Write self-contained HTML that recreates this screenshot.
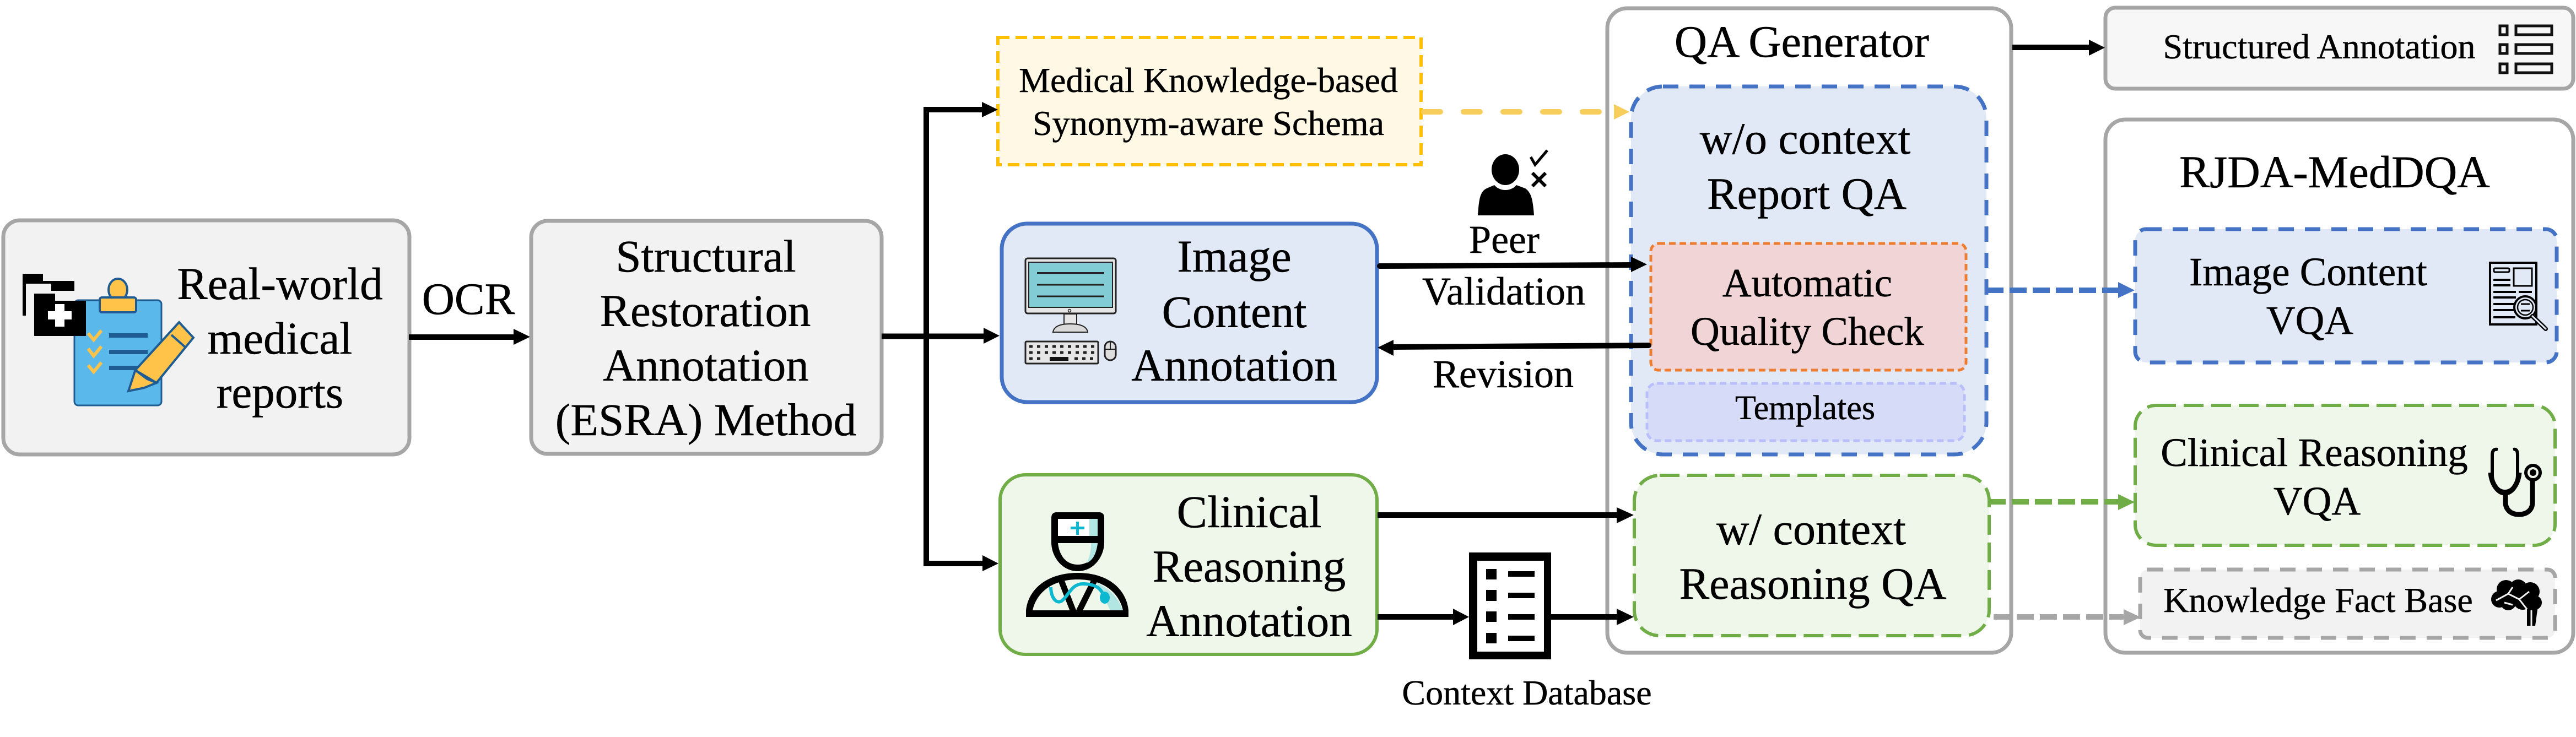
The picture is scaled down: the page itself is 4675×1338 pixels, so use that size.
<!DOCTYPE html>
<html><head><meta charset="utf-8"><style>
html,body{margin:0;padding:0;background:#fff}
svg{display:block}
text{font-family:"Liberation Serif","Times New Roman",serif;fill:#000;text-anchor:middle;stroke:#000;stroke-width:.5px}
</style></head><body>
<svg width="4675" height="1338" viewBox="0 0 4675 1338" xmlns="http://www.w3.org/2000/svg">
<rect width="4675" height="1338" fill="#fff"/>

<!-- main boxes -->
<rect x="6" y="400" width="737" height="425" rx="30" fill="#f2f2f2" stroke="#a6a6a6" stroke-width="7"/>
<rect x="964" y="401" width="636" height="423" rx="30" fill="#f2f2f2" stroke="#a6a6a6" stroke-width="7"/>
<rect x="1811" y="68" width="768" height="231" fill="#fff8e5" stroke="#ffc000" stroke-width="6" stroke-dasharray="21 11"/>
<rect x="1818" y="406" width="681" height="324" rx="46" fill="#e2e9f6" stroke="#4472c4" stroke-width="7"/>
<rect x="1815" y="862" width="684" height="326" rx="46" fill="#eff6ea" stroke="#70ad47" stroke-width="6"/>

<rect x="2917" y="15" width="733" height="1170" rx="36" fill="#fff" stroke="#a6a6a6" stroke-width="7"/>
<rect x="2960" y="157" width="645" height="668" rx="58" fill="#e2e9f6" stroke="#4472c4" stroke-width="7" stroke-dasharray="28 20"/>
<rect x="2996" y="442" width="572" height="230" rx="14" fill="#f1d4d6" stroke="#ed7d31" stroke-width="5" stroke-dasharray="12 7"/>
<rect x="2989" y="696" width="576" height="104" rx="18" fill="#d6dcf8" stroke="#b9bffb" stroke-width="5" stroke-dasharray="12 7"/>
<rect x="2966" y="863" width="644" height="291" rx="46" fill="#eff6ea" stroke="#70ad47" stroke-width="6" stroke-dasharray="36 14"/>

<rect x="3821" y="14" width="849" height="147" rx="18" fill="#f7f7f7" stroke="#a6a6a6" stroke-width="7"/>
<rect x="3821" y="217" width="849" height="968" rx="36" fill="#fff" stroke="#a6a6a6" stroke-width="7"/>
<rect x="3875" y="416" width="765" height="242" rx="20" fill="#e2e9f6" stroke="#4472c4" stroke-width="7" stroke-dasharray="28 20"/>
<rect x="3875" y="736" width="762" height="254" rx="38" fill="#eff6ea" stroke="#70ad47" stroke-width="6" stroke-dasharray="36 14"/>
<rect x="3884" y="1034" width="753" height="124" rx="14" fill="#f2f2f2" stroke="#a6a6a6" stroke-width="7" stroke-dasharray="28 20"/>

<!-- black arrows -->
<g stroke="#000" stroke-width="10" fill="none">
<path d="M742 612H935"/>
<path d="M1600 610.500H1790"/>
<path d="M1786 199H1681V1023H1790" stroke-width="10"/>
<path d="M2504 483L2965 481" stroke-linecap="round"/>
<path d="M2992 627L2525 630" stroke-linecap="round"/>
<path d="M2500 935H2938"/>
<path d="M2500 1120H2640"/>
<path d="M2815 1120H2938"/>
<path d="M3652 86H3795"/>
</g>
<g fill="#000">
<polygon points="932,597 962,611.500 932,626"/>
<polygon points="1785,595 1814,609.500 1785,624"/>
<polygon points="1782,185 1811,199 1782,213"/>
<polygon points="1783,1008 1812,1023 1783,1037"/>
<polygon points="2960,466 2989,480 2960,494"/>
<polygon points="2529,617 2500,631 2529,646"/>
<polygon points="2934,921 2965,935 2934,950"/>
<polygon points="2637,1105 2666,1120 2637,1135"/>
<polygon points="2934,1105 2965,1120 2934,1135"/>
<polygon points="3791,72 3820,86.500 3791,101"/>
</g>

<!-- coloured dashed arrows -->
<path d="M2584 203H2925" stroke="#f7ce5b" stroke-width="10" stroke-linecap="round" stroke-dasharray="30 42" fill="none"/>
<polygon points="2929,189 2957,203 2929,217" fill="#f7ce5b"/>
<path d="M3605 527H3846" stroke="#4472c4" stroke-width="10" stroke-dasharray="31 11" fill="none"/>
<polygon points="3844,512 3874,527 3844,541" fill="#4472c4"/>
<path d="M3609 911H3846" stroke="#70ad47" stroke-width="10" stroke-dasharray="31 11" fill="none"/>
<polygon points="3844,897 3874,911.500 3844,926" fill="#70ad47"/>
<path d="M3618 1120H3856" stroke="#a6a6a6" stroke-width="10" stroke-dasharray="31 11" fill="none"/>
<polygon points="3854,1106 3885,1120.500 3854,1135" fill="#a6a6a6"/>

<!-- text -->
<g font-size="83">
<text x="508" y="543">Real-world</text>
<text x="508" y="642">medical</text>
<text x="508" y="740">reports</text>
<text x="850" y="570" font-size="82">OCR</text>
<text x="1281" y="493">Structural</text>
<text x="1280" y="592">Restoration</text>
<text x="1281" y="691">Annotation</text>
<text x="1281" y="790">(ESRA) Method</text>
<text x="2240" y="493">Image</text>
<text x="2240" y="594">Content</text>
<text x="2240" y="691">Annotation</text>
<text x="2267" y="957">Clinical</text>
<text x="2267" y="1056">Reasoning</text>
<text x="2267" y="1155">Annotation</text>
</g>
<g font-size="64">
<text x="2193" y="167">Medical Knowledge-based</text>
<text x="2193" y="245">Synonym-aware Schema</text>
<text x="4209" y="106">Structured Annotation</text>
<text x="4207" y="1111">Knowledge Fact Base</text>
</g>
<g font-size="72">
<text x="2730" y="459">Peer</text>
<text x="2729" y="553">Validation</text>
<text x="2728" y="703">Revision</text>
</g>
<text x="2771" y="1279" font-size="64">Context Database</text>
<text x="3270" y="103" font-size="82">QA Generator</text>
<g font-size="82">
<text x="3276" y="279" font-size="81.500">w/o context</text>
<text x="3279" y="379">Report QA</text>
<text x="3287" y="988">w/ context</text>
<text x="3290" y="1087">Reasoning QA</text>
<text x="4237" y="340" font-size="82.500">RJDA-MedDQA</text>
</g>
<g font-size="73">
<text x="3280" y="538">Automatic</text>
<text x="3280" y="626">Quality Check</text>
<text x="4189" y="518">Image Content</text>
<text x="4192" y="606">VQA</text>
<text x="4200" y="846">Clinical Reasoning</text>
<text x="4205" y="934">VQA</text>
</g>
<text x="3276" y="761" font-size="62">Templates</text>

<!-- clipboard icon -->
<rect x="135" y="545" width="158" height="191" rx="7" fill="#5bb8ea" stroke="#1f5c94" stroke-width="3"/>
<path d="M41 573V497H78V510H135V528H93V515H47V573Z" fill="#000"/>
<path d="M62 533H100V546H156V610H62Z" fill="#000"/>
<path d="M100 552h17v13h13v15h-13v13h-17v-13h-13v-15h13z" fill="#fff"/>
<ellipse cx="214" cy="526" rx="17" ry="20" fill="#ffc34a" stroke="#1f5c94" stroke-width="4"/>
<rect x="181" y="540" width="66" height="27" rx="4" fill="#ffc34a" stroke="#1f5c94" stroke-width="4"/>
<g stroke="#1f5c94" stroke-width="8" fill="none">
<path d="M198 609H268M198 639H268M198 668H255"/>
</g>
<g stroke="#ffc34a" stroke-width="6" fill="none">
<path d="M160 605L170 617L184 600M160 633L170 646L184 629M160 663L170 675L184 658"/>
</g>
<polygon points="325,585 351,613 284,695 245.500,672" fill="#ffc34a" stroke="#1f5c94" stroke-width="4"/>
<path d="M311 608L337 631" stroke="#1f5c94" stroke-width="4"/>
<polygon points="245.500,672 267,688 284,695 262,704 233,710" fill="#ffc34a" stroke="#1f5c94" stroke-width="4"/>

<!-- computer icon -->
<rect x="1861" y="469" width="164" height="100" rx="4" fill="#e6e6e6" stroke="#222" stroke-width="3"/>
<rect x="1867" y="476" width="152" height="82" fill="#82ccd6" stroke="#222" stroke-width="2"/>
<path d="M1882 495.500H2004M1882 517H2004M1882 538H2004" stroke="#222" stroke-width="3"/>
<circle cx="1941" cy="564" r="2.500" fill="none" stroke="#222" stroke-width="1.500"/>
<rect x="1931" y="570" width="23" height="20" fill="#e6e6e6" stroke="#222" stroke-width="2"/>
<path d="M1911 603C1913 590 1930 588 1942 588S1972 590 1974 603Z" fill="#d9d9d9" stroke="#222" stroke-width="2"/>
<rect x="1861" y="620" width="132" height="40" rx="2" fill="#e6e6e6" stroke="#222" stroke-width="3"/>
<g stroke="#222" stroke-width="5" stroke-dasharray="6 8" fill="none">
<path d="M1868 629H1988M1868 640H1988"/>
<path d="M1868 651H1892"/>
<path d="M1950 651H1988"/>
</g>
<rect x="1905" y="648" width="34" height="7" fill="#111"/>
<rect x="2005" y="620" width="20" height="34" rx="10" fill="#ddd" stroke="#222" stroke-width="3"/>
<path d="M2015 620V634M2005 634H2025" stroke="#222" stroke-width="2"/>

<!-- person icon -->
<ellipse cx="2732" cy="308" rx="25" ry="28" fill="#000"/>
<path d="M2682 391C2684 365 2685 348 2698 342L2712 336C2722 348 2742 348 2752 336L2768 342C2780 350 2782 365 2784 391Z" fill="#000"/>
<path d="M2778 285L2786 299L2808 273" fill="none" stroke="#000" stroke-width="5"/>
<path d="M2781 314L2805 338M2805 314L2781 338" fill="none" stroke="#000" stroke-width="6"/>

<!-- doctor icon -->
<path d="M1908 940Q1908 930 1918 930H1994Q2004 930 2004 940V985C2004 1010 1985 1037 1956 1037C1927 1037 1908 1010 1908 985Z" fill="#000"/>
<rect x="1920" y="942" width="72" height="31" fill="#fff"/>
<rect x="1977" y="942" width="15" height="31" fill="#b2e6e2"/>
<path d="M1920 986H1992C1990 1005 1980 1025 1956 1025C1932 1025 1922 1005 1920 986Z" fill="#eff6ea"/>
<path d="M1992 986C1990 1005 1983 1018 1972 1022C1978 1010 1980 1000 1980 986Z" fill="#b2e6e2"/>
<path d="M1955.500 947V971M1943 958.500H1968" stroke="#0bb8d0" stroke-width="5"/>
<path d="M1862 1108C1866 1070 1900 1040 1956 1040C2012 1040 2044 1070 2048 1108V1120H1862Z" fill="#000"/>
<path d="M1874 1108C1880 1080 1905 1052 1956 1052C2007 1052 2032 1080 2038 1108Z" fill="#eff6ea"/>
<path d="M1990 1058C2018 1070 2032 1090 2037 1108H2015Z" fill="#b2e6e2"/>
<path d="M1926 1054L1948 1110M1986 1054L1958 1110" stroke="#000" stroke-width="11"/>
<path d="M1907 1066C1908 1090 1920 1097 1928 1090C1940 1080 1945 1060 1965 1060C1990 1060 2000 1070 2004 1085" fill="none" stroke="#0bb8d0" stroke-width="6"/>
<ellipse cx="2005" cy="1085" rx="9" ry="11" fill="#0bb8d0"/>

<!-- context DB -->
<rect x="2666" y="1003" width="149" height="194" fill="#000"/>
<rect x="2681" y="1018" width="121" height="165" fill="#fff"/>
<g fill="#000">
<rect x="2697" y="1033" width="19" height="19"/><rect x="2737" y="1037" width="48" height="10"/>
<rect x="2697" y="1071" width="19" height="20"/><rect x="2737" y="1076" width="48" height="10"/>
<rect x="2697" y="1110" width="19" height="19"/><rect x="2737" y="1115" width="48" height="10"/>
<rect x="2697" y="1149" width="19" height="19"/><rect x="2737" y="1154" width="48" height="10"/>
</g>

<!-- list icon -->
<g fill="none" stroke="#111" stroke-width="5">
<rect x="4537" y="47" width="13" height="16"/><rect x="4566" y="47" width="65" height="16"/>
<rect x="4537" y="81" width="13" height="16"/><rect x="4566" y="81" width="65" height="16"/>
<rect x="4537" y="116" width="13" height="16"/><rect x="4566" y="116" width="65" height="16"/>
</g>

<!-- document magnifier -->
<rect x="4519" y="477" width="84" height="112" fill="none" stroke="#000" stroke-width="4"/>
<rect x="4526" y="487" width="28" height="7" rx="2" fill="none" stroke="#000" stroke-width="3"/>
<rect x="4562" y="487" width="33" height="32" fill="none" stroke="#000" stroke-width="3"/>
<path d="M4525 508H4556M4525 518H4556M4525 530H4566M4571 530H4595M4525 540H4566M4525 552H4562M4525 563H4562M4525 576H4565" stroke="#000" stroke-width="4"/>
<circle cx="4583" cy="558" r="20" fill="#e2e9f6" stroke="#000" stroke-width="4"/>
<circle cx="4583" cy="558" r="14" fill="none" stroke="#000" stroke-width="2.500"/>
<path d="M4575 552H4591M4575 564H4591" stroke="#000" stroke-width="3"/>
<path d="M4596 574L4620 597" stroke="#000" stroke-width="8" stroke-linecap="round"/>
<path d="M4596 574L4620 597" stroke="#e2e9f6" stroke-width="3" stroke-linecap="round"/>

<!-- stethoscope -->
<path d="M4533 816Q4523 814 4523 826V862C4523 880 4534 892 4546 892C4558 892 4569 880 4569 862V826Q4569 814 4561 816" fill="none" stroke="#000" stroke-width="6"/>
<path d="M4520 858C4522 880 4534 895 4546 895C4558 895 4570 880 4572 858" fill="none" stroke="#000" stroke-width="9"/>
<path d="M4547 893V912C4547 925 4557 934 4571 934C4587 934 4596 925 4596 912V873" fill="none" stroke="#000" stroke-width="9"/>
<circle cx="4597" cy="858" r="13" fill="#eff6ea" stroke="#000" stroke-width="6"/>
<circle cx="4597" cy="858" r="6" fill="#000"/>

<!-- brain -->
<g fill="#000">
<circle cx="4548" cy="1070" r="17"/><circle cx="4570" cy="1068" r="16"/><circle cx="4592" cy="1074" r="17"/>
<circle cx="4536" cy="1088" r="15"/><circle cx="4552" cy="1094" r="14"/><circle cx="4578" cy="1090" r="17"/><circle cx="4600" cy="1094" r="13"/>
<path d="M4586 1100H4606L4601 1136H4586Z"/>
</g>
<path d="M4530 1090L4552 1078L4560 1066M4552 1078L4572 1088L4590 1074M4572 1088L4586 1106M4594 1108V1136M4545 1094L4560 1098" fill="none" stroke="#f2f2f2" stroke-width="3"/>
</svg>
</body></html>
